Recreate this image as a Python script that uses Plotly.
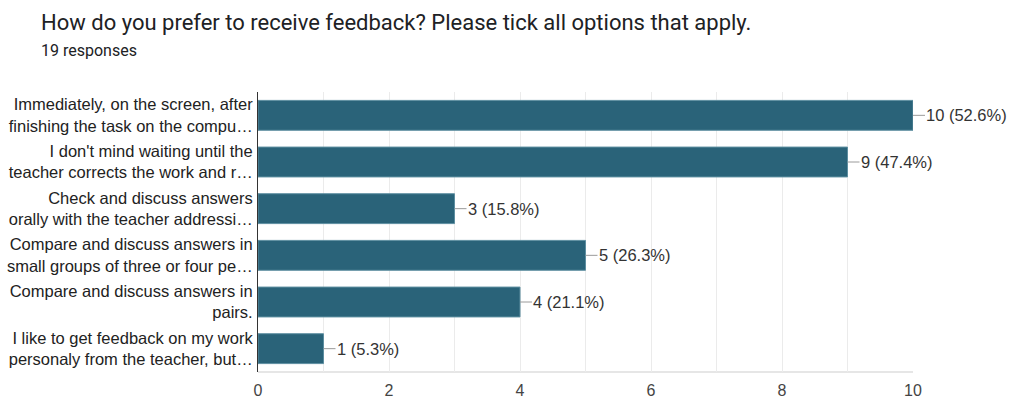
import plotly.graph_objects as go

categories = [
    "Immediately, on the screen, after<br>finishing the task on the compu…",
    "I don't mind waiting until the<br>teacher corrects the work and r…",
    "Check and discuss answers<br>orally with the teacher addressi…",
    "Compare and discuss answers in<br>small groups of three or four pe…",
    "Compare and discuss answers in<br>pairs.",
    "I like to get feedback on my work<br>personaly from the teacher, but…",
]
counts = [10, 9, 3, 5, 4, 1]
percents = ["52.6%", "47.4%", "15.8%", "26.3%", "21.1%", "5.3%"]
tick_vals = [0, 2, 4, 6, 8, 10]

FONT = "Liberation Sans, Arial, sans-serif"
L, R, T, B = 258, 98, 92, 27
PW = 1011 - L - R

fig = go.Figure()
fig.add_trace(go.Bar(
    x=counts, y=categories, orientation="h",
    marker=dict(color="#2a6379", line=dict(color="#5d8ea0", width=1)),
    width=0.64, hoverinfo="skip",
))

for c, cat, p in zip(counts, categories, percents):
    fig.add_annotation(
        x=c, y=cat, xref="x", yref="y",
        text=f"{c} ({p})", showarrow=True, arrowhead=0, arrowwidth=1,
        arrowcolor="#9a9a9a", ax=12, ay=0, xanchor="left",
        font=dict(family=FONT, size=16.5, color="#333333"),
        borderpad=0,
    )

fig.add_annotation(
    text="How do you prefer to receive feedback? Please tick all options that apply.",
    xref="paper", yref="paper", x=(39 - L) / PW, y=1, yanchor="middle",
    xanchor="left", yshift=70, showarrow=False,
    font=dict(family="Roboto, sans-serif", size=22, color="#202124"),
)
fig.add_annotation(
    text="19 responses",
    xref="paper", yref="paper", x=(39 - L) / PW, y=1, yanchor="middle",
    xanchor="left", yshift=42, showarrow=False,
    font=dict(family="Roboto, sans-serif", size=16, color="#202124"),
)

fig.update_layout(
    width=1011, height=399,
    margin=dict(l=L, r=R, t=T, b=B),
    paper_bgcolor="white", plot_bgcolor="white",
    showlegend=False,
    xaxis=dict(
        range=[0, 10], tickvals=tick_vals, showgrid=True, gridcolor="#ebebeb",
        gridwidth=1, zeroline=False, showline=False, automargin=False,
        minor=dict(dtick=1, showgrid=True, gridcolor="#ebebeb", gridwidth=1),
        tickfont=dict(family=FONT, size=16, color="#444444"),
        ticks="", ticklabelstandoff=7, fixedrange=True,
    ),
    yaxis=dict(
        autorange="reversed", showgrid=False, zeroline=False, automargin=False,
        showline=True, linecolor="#333333", linewidth=1,
        tickfont=dict(family=FONT, size=16.5, color="#222222"),
        ticks="", ticklabelstandoff=1,
    ),
)
fig.add_shape(type="line", xref="paper", yref="paper", x0=0, x1=1, y0=0, y1=0,
              line=dict(color="#e6e6e6", width=2), layer="below")

fig.write_html("out.html")
